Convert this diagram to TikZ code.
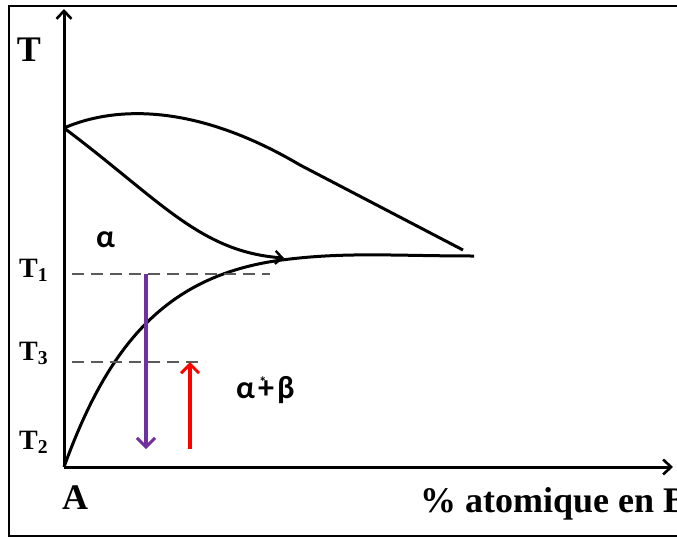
\documentclass[tikz,border=0pt]{standalone}
\usepackage{fontspec}
\setmainfont{Liberation Serif}
\newfontfamily\grk{Carlito}
\usetikzlibrary{arrows.meta}
\definecolor{mypurple}{HTML}{7030A0}
\definecolor{myred}{HTML}{FF0000}
\definecolor{dashgray}{HTML}{5A5A5A}
\begin{document}
\begin{tikzpicture}[x=1pt,y=-1pt,
  axis/.style={line width=3pt, -{Straight Barb[length=8pt,width=15pt,line width=2.6pt]}},
  curve/.style={line width=3pt},
  guide/.style={line width=1.5pt, draw=dashgray, dash pattern=on 12pt off 7pt},
  move/.style={line width=3.2pt, -{Straight Barb[length=9pt,width=18pt,line width=3pt]}},
  lbl/.style={font=\fontsize{36}{36}\bfseries\selectfont, inner sep=0pt, anchor=base},
  tlbl/.style={font=\fontsize{28}{28}\bfseries\selectfont, inner sep=0pt, anchor=base west},
  phase/.style={font=\fontsize{32}{32}\selectfont\grk\bfseries, inner sep=0pt, anchor=base west}]
\useasboundingbox (0,0) rectangle (677,538);
\draw[line width=2.4pt] (9,6) rectangle (720,536);
% key points
\coordinate (O) at (64,467);
\coordinate (Ytop) at (64,9);
\coordinate (Xend) at (673,467);
\coordinate (L) at (64,128);
\coordinate (H) at (300,165);
\coordinate (E) at (463,250);
\coordinate (S) at (474,256);
\coordinate (P) at (284,258);
\coordinate (M) at (290,259);
\coordinate (d1a) at (72,274);
\coordinate (d1b) at (270,274);
\coordinate (d3a) at (72,362);
\coordinate (d3b) at (205,362);
\coordinate (pa) at (146,274);
\coordinate (pb) at (146,449);
\coordinate (ra) at (190,449);
\coordinate (rb) at (190,362);
% axes
\draw[axis] (O) -- (Ytop);
\draw[axis] (O) -- (Xend);
% liquidus
\draw[curve] (L) .. controls (110,108) and (190,100) .. (H) -- (E);
% solidus
\draw[curve] (O) .. controls (110,340) and (170,272) .. (M)
  .. controls (350,252) and (400,256) .. (S);
% arrow curve
\draw[curve, -{Straight Barb[length=7pt,width=13pt,line width=2.4pt]}] (L) .. controls (160,200) and (200,252) .. (P);
% dashed guides
\draw[guide] (d1a) -- (d1b);
\draw[guide] (d3a) -- (d3b);
% cooling / heating arrows
\draw[move, draw=mypurple] (pa) -- (pb);
\draw[move, draw=myred] (ra) -- (rb);
% labels
\node[lbl] (tT) at (29,61) {T};
\node[lbl] (tA) at (75,509) {A};
\node[lbl, anchor=base west] (tX) at (420,512) {\% atomique en B};
\node[tlbl] (t1) at (19,277) {T\textsubscript{1}};
\node[tlbl] (t3) at (19,360) {T\textsubscript{3}};
\node[tlbl] (t2) at (19,449) {T\textsubscript{2}};
\node[phase] (alpha) at (96,247) {α};
\node[phase] (ab) at (236,398) {α\kern3pt\rlap{\kern1pt\raisebox{11pt}{\fontsize{15}{15}\selectfont *}}+\kern3pt β};
\end{tikzpicture}
\end{document}
